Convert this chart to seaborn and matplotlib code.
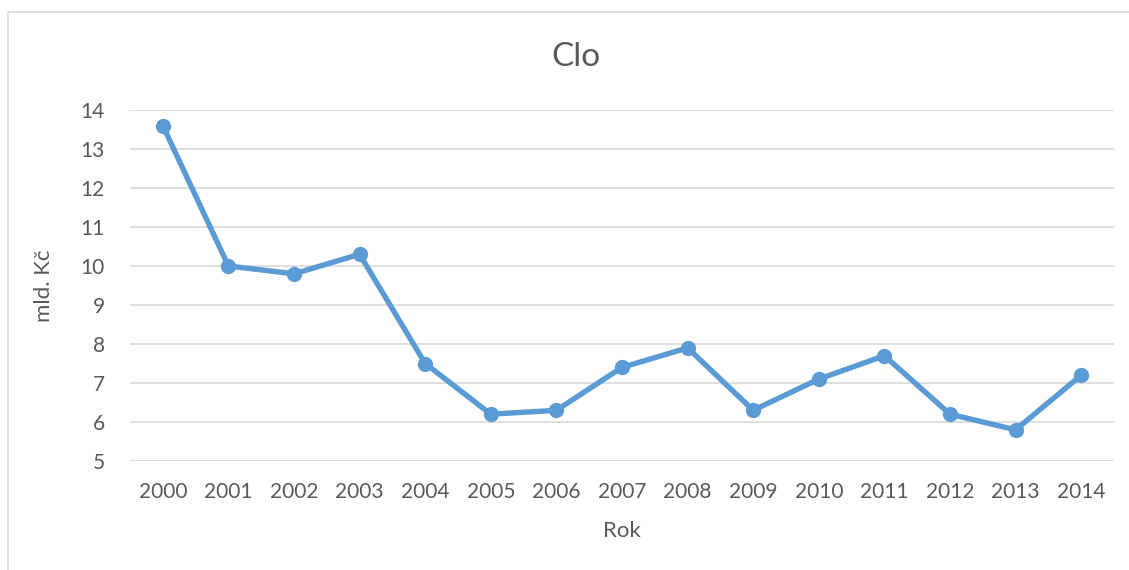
import matplotlib
matplotlib.use("Agg")
import matplotlib.pyplot as plt
import seaborn as sns
import pandas as pd

# data
years = ["2000", "2001", "2002", "2003", "2004", "2005", "2006", "2007",
         "2008", "2009", "2010", "2011", "2012", "2013", "2014"]
values = [13.6, 10.0, 9.8, 10.3, 7.5, 6.2, 6.3, 7.4, 7.9, 6.3, 7.1, 7.7, 6.2, 5.8, 7.2]
y_ticks = [5, 6, 7, 8, 9, 10, 11, 12, 13, 14]

sns.set_theme(style="white")
plt.rcParams["font.family"] = ["Lato", "DejaVu Sans"]

df = pd.DataFrame({"Rok": years, "Clo": values})

fig = plt.figure(figsize=(11.29, 5.70), dpi=100)
ax = fig.add_axes([130 / 1129, 1 - 461 / 570, 984 / 1129, 351 / 570])

# chart frame
fig.patches.append(plt.Rectangle((8 / 1129, -0.05), 1.2, 1 - 12 / 570 + 0.05,
                                 transform=fig.transFigure, fill=False,
                                 edgecolor="#D9D9D9", linewidth=1.2))

sns.lineplot(data=df, x="Rok", y="Clo", ax=ax, color="#5B9BD5", linewidth=3.9,
             marker="o", markersize=11, markeredgewidth=0, sort=False)

ax.set_xlim(-0.5, len(years) - 0.5)
ax.set_ylim(5, 14)
ax.set_yticks(y_ticks)
ax.yaxis.grid(True, color="#D9D9D9", linewidth=1.2)
ax.set_axisbelow(True)
for s in ax.spines.values():
    s.set_visible(False)
ax.tick_params(axis="both", length=0, labelsize=15, labelcolor="#595959")
ax.tick_params(axis="x", pad=15)
ax.tick_params(axis="y", pad=18)

ax.set_xlabel("Rok", fontsize=16, color="#595959", labelpad=14)
ax.set_ylabel("mld. Kč", fontsize=16, color="#595959", labelpad=19)
fig.text(576 / 1129, 1 - 57 / 570, "Clo", fontsize=24, color="#595959",
         ha="center", va="center")

fig.savefig("out.png", dpi=100)
